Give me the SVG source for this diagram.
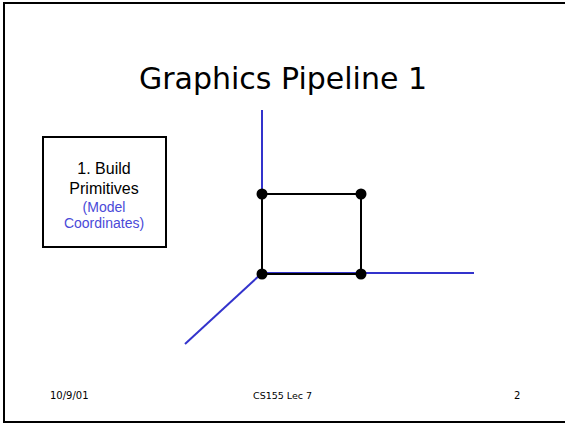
<svg xmlns="http://www.w3.org/2000/svg" width="565" height="424" viewBox="0 0 565 424">
<style>
.t{font-family:"DejaVu Sans",Verdana,sans-serif;fill:#000}
.l{font-family:"Liberation Sans",Arial,sans-serif;fill:#000;text-anchor:middle}
.b{fill:#4a4ad8}
.ax{stroke:#3333cc;stroke-width:2;fill:none}
.sq{stroke:#000;stroke-width:2;fill:none}
</style>
<rect x="4" y="3" width="600" height="419" fill="#fff" stroke="#000" stroke-width="2"/>
<text class="t" x="283" y="89" font-size="30" text-anchor="middle">Graphics Pipeline 1</text>
<g id="box">
<rect x="43" y="137" width="123" height="110" fill="#fff" stroke="#000" stroke-width="2"/>
<text class="l" x="104" y="174" font-size="16">1. Build</text>
<text class="l" x="104" y="194" font-size="16">Primitives</text>
<text class="l b" x="104" y="212" font-size="14">(Model</text>
<text class="l b" x="104" y="228" font-size="14">Coordinates)</text>
</g>
<g id="connectors">
<line class="ax" x1="262" y1="110" x2="262" y2="194"/>
<line class="ax" x1="262" y1="273" x2="474" y2="273"/>
<line class="ax" x1="262" y1="273" x2="185" y2="344"/>
<rect class="sq" x="262" y="194" width="99" height="80"/>
</g>
<g id="points">
<circle cx="262" cy="194" r="5.5"/>
<circle cx="361" cy="194" r="5.5"/>
<circle cx="262" cy="274" r="5.5"/>
<circle cx="361" cy="274" r="5.5"/>
</g>
<text class="t" x="50" y="399" font-size="10">10/9/01</text>
<text class="t" x="253" y="399" font-size="9.5">CS155 Lec 7</text>
<text class="t" x="514" y="399" font-size="10">2</text>
</svg>
